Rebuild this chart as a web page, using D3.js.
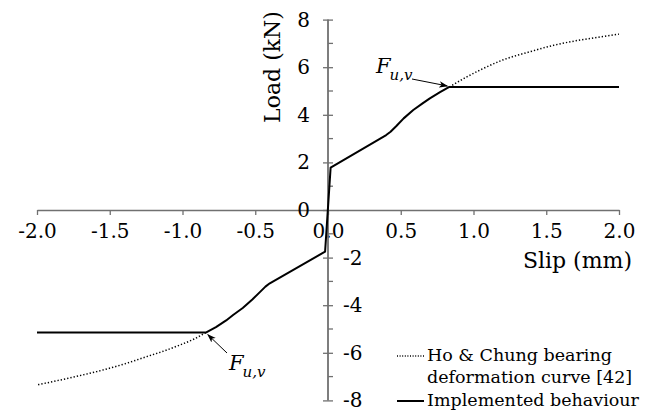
<!DOCTYPE html>
<html>
<head>
<meta charset="utf-8">
<script src="https://cdn.jsdelivr.net/npm/d3@7"></script>
<style>
  html, body { margin: 0; padding: 0; background: #fff; }
  svg { display: block; }
  svg text { font-family: "DejaVu Serif", "Liberation Serif", serif; }
</style>
</head>
<body>
<svg id="chart" width="649" height="411"></svg>
<script>
// Axis ticks
const xTicks = [-2.0, -1.5, -1.0, -0.5, 0.0, 0.5, 1.0, 1.5, 2.0];
const yTicksPos = [0, 2, 4, 6, 8];
const yTicksNeg = [-2, -4, -6, -8];
const yMinorTicks = [-7, -5, -3, -1, 1, 3, 5, 7];

// Implemented load-slip behaviour (mm, kN)
const implSlip = [-2.0, -0.84, -0.77, -0.70, -0.65, -0.586, -0.52, -0.47, -0.43, -0.40, -0.02,
                  0.018, 0.40, 0.43, 0.47, 0.52, 0.586, 0.65, 0.70, 0.77, 0.834, 2.0];
const implLoad = [-5.15, -5.15, -4.92, -4.64, -4.40, -4.12, -3.76, -3.46, -3.22, -3.08, -1.75,
                  1.78, 3.15, 3.29, 3.53, 3.85, 4.2, 4.48, 4.69, 4.95, 5.17, 5.17];

// Ho & Chung bearing deformation curve beyond F_u,v
const hoSlipPos = [0.834, 0.95, 1.045, 1.2, 1.388, 1.55, 1.732, 1.87, 2.0];
const hoLoadPos = [5.17, 5.58, 5.88, 6.3, 6.65, 6.92, 7.14, 7.27, 7.39];
const hoSlipNeg = [-0.84, -0.92, -1.017, -1.13, -1.246, -1.4, -1.59, -1.8, -2.0];
const hoLoadNeg = [-5.15, -5.42, -5.67, -5.93, -6.16, -6.47, -6.79, -7.09, -7.35];

const legendLabels = [["Ho & Chung bearing", "deformation curve [42]"], ["Implemented behaviour"]];

const svg = d3.select("#chart");
const x = d3.scaleLinear().domain([-2, 2]).range([37, 619]);
const y = d3.scaleLinear().domain([-8, 8]).range([400.4, 19.6]);

const axisColor = "#707070";
const serif = "DejaVu Serif, Liberation Serif, serif";

// arrowhead marker
svg.append("defs").append("marker")
  .attr("id", "arrow").attr("viewBox", "0 0 10 10")
  .attr("refX", 9).attr("refY", 5)
  .attr("markerWidth", 9).attr("markerHeight", 9)
  .attr("markerUnits", "userSpaceOnUse")
  .attr("orient", "auto")
  .append("path").attr("d", "M0,1.5 L10,5 L0,8.5 L2.5,5 Z").attr("fill", "#000");

// x axis through load = 0
const gx = svg.append("g")
  .attr("transform", `translate(0,${y(0)})`)
  .call(d3.axisBottom(x).tickValues(xTicks).tickSize(5).tickSizeOuter(0)
        .tickPadding(9).tickFormat(d => d.toFixed(1)));
gx.attr("font-family", serif);
gx.select(".domain").attr("stroke", axisColor).attr("stroke-width", 1.3);
gx.selectAll(".tick line").attr("stroke", axisColor).attr("stroke-width", 1.3);
gx.selectAll(".tick text").attr("font-size", 20).attr("fill", "#000");

// y axis through slip = 0: positive labels on the left, negative on the right
const gyL = svg.append("g")
  .attr("transform", `translate(${x(0)},0)`)
  .call(d3.axisLeft(y).tickValues(yTicksPos).tickSize(5).tickSizeOuter(0)
        .tickPadding(13).tickFormat(d => String(d)));
const gyR = svg.append("g")
  .attr("transform", `translate(${x(0)},0)`)
  .call(d3.axisRight(y).tickValues(yTicksNeg).tickSize(5).tickSizeOuter(0)
        .tickPadding(10).tickFormat(d => String(d)));
gyR.select(".domain").remove();
gyL.select(".domain").attr("d", `M0,${y(8)}V${y(-8)}`)
  .attr("stroke", axisColor).attr("stroke-width", 1.8);
[gyL, gyR].forEach(g => {
  g.attr("font-family", serif);
  g.selectAll(".tick line").attr("x1", -5).attr("x2", 5)
    .attr("stroke", axisColor).attr("stroke-width", 1.3);
  g.selectAll(".tick text").attr("font-size", 20).attr("fill", "#000");
});
// the zero tick only crosses on the left
gyL.selectAll(".tick").filter(d => d === 0).select("line").attr("x2", 0);

// minor ticks at odd loads
svg.append("g").selectAll("line").data(yMinorTicks).join("line")
  .attr("x1", x(0)).attr("x2", x(0) + 5)
  .attr("y1", d => y(d)).attr("y2", d => y(d))
  .attr("stroke", axisColor).attr("stroke-width", 1.3);

// axis titles
svg.append("text").attr("x", 632).attr("y", 268).attr("text-anchor", "end")
  .attr("font-size", 22).text("Slip (mm)");
svg.append("text").attr("transform", `translate(280,67) rotate(-90)`)
  .attr("text-anchor", "middle").attr("font-size", 22).text("Load (kN)");

// curves
const ptsLine = d3.line().x(d => x(d[0])).y(d => y(d[1]));
const hoLine = d3.line().x(d => x(d[0])).y(d => y(d[1])).curve(d3.curveMonotoneX);

[[hoSlipPos, hoLoadPos], [hoSlipNeg, hoLoadNeg]].forEach(([s, l]) => {
  svg.append("path").datum(d3.zip(s, l)).attr("d", hoLine)
    .attr("fill", "none").attr("stroke", "#000").attr("stroke-width", 1.5)
    .attr("stroke-dasharray", "1.3,2");
});

svg.append("path").datum(d3.zip(implSlip, implLoad)).attr("d", ptsLine)
  .attr("fill", "none").attr("stroke", "#000").attr("stroke-width", 2)
  .attr("stroke-linejoin", "round");

// F_u,v annotations
function fuLabel(xp, yp) {
  const t = svg.append("text").attr("x", xp).attr("y", yp).attr("font-size", 21);
  t.append("tspan").attr("font-style", "italic").text("F");
  t.append("tspan").attr("font-style", "italic").attr("font-size", 15)
    .attr("dx", -1).attr("dy", 7).text("u,v");
}
fuLabel(376, 73);
fuLabel(229, 370);
svg.append("line").attr("x1", 412).attr("y1", 79).attr("x2", x(0.834) - 2).attr("y2", y(5.17) - 1)
  .attr("stroke", "#000").attr("stroke-width", 1).attr("marker-end", "url(#arrow)");
svg.append("line").attr("x1", 227).attr("y1", 353).attr("x2", x(-0.84) + 2).attr("y2", y(-5.15) + 2)
  .attr("stroke", "#000").attr("stroke-width", 1).attr("marker-end", "url(#arrow)");

// legend
const lg = svg.append("g");
lg.append("line").attr("x1", 397).attr("x2", 424).attr("y1", 356).attr("y2", 356)
  .attr("stroke", "#000").attr("stroke-width", 1.3).attr("stroke-dasharray", "1,1.6");
lg.append("text").attr("x", 427).attr("y", 361).attr("font-size", 17.5).text(legendLabels[0][0]);
lg.append("text").attr("x", 427).attr("y", 383).attr("font-size", 17.5).text(legendLabels[0][1]);
lg.append("line").attr("x1", 397).attr("x2", 424).attr("y1", 401).attr("y2", 401)
  .attr("stroke", "#000").attr("stroke-width", 2);
lg.append("text").attr("x", 427).attr("y", 406).attr("font-size", 17.5).text(legendLabels[1][0]);
</script>
</body>
</html>
